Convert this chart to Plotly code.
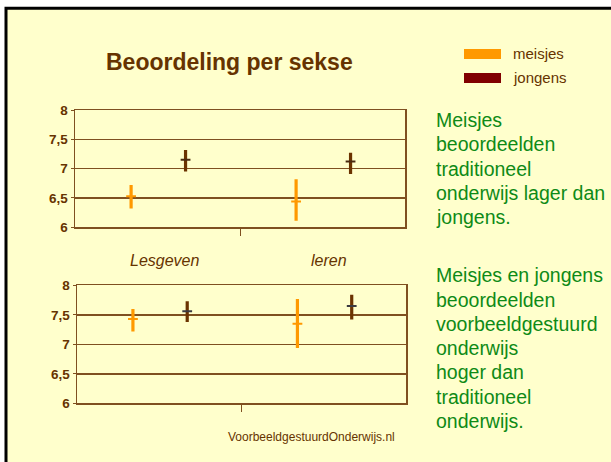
import plotly.graph_objects as go

# ---------------- data ----------------
categories = ["Lesgeven", "leren"]
series_names = ["meisjes", "jongens"]

# top chart (traditioneel onderwijs)
top_meisjes_mean = [6.53, 6.44]
top_meisjes_low = [6.32, 6.11]
top_meisjes_high = [6.72, 6.82]
top_jongens_mean = [7.15, 7.12]
top_jongens_low = [6.95, 6.91]
top_jongens_high = [7.32, 7.27]

# bottom chart (voorbeeldgestuurd onderwijs)
bot_meisjes_mean = [7.43, 7.35]
bot_meisjes_low = [7.22, 6.94]
bot_meisjes_high = [7.60, 7.77]
bot_jongens_mean = [7.56, 7.65]
bot_jongens_low = [7.38, 7.42]
bot_jongens_high = [7.73, 7.84]

y_ticks = [6, 6.5, 7, 7.5, 8]
y_tick_labels = ["6", "6,5", "7", "7,5", "8"]

title_text = "Beoordeling per sekse"
text_block_1 = ["Meisjes", "beoordeelden", "traditioneel", "onderwijs lager dan", "jongens."]
text_block_2 = ["Meisjes en jongens", "beoordeelden", "voorbeeldgestuurd", "onderwijs",
                "hoger dan", "traditioneel", "onderwijs."]
footer_text = "VoorbeeldgestuurdOnderwijs.nl"

# ---------------- style ----------------
W, H = 611, 462
BG = "#FFFFCC"
BROWN = "#663300"
GRID = "#7F5020"
ORANGE = "#FF9900"
DARK = "#6B3300"
LEGEND_DARK = "#800000"
GREEN = "#0E8A16"
FONT = "Arial, Liberation Sans, sans-serif"

offsets = {"meisjes": -0.16, "jongens": 0.17}

# empirical correction for the vertical placement seen in the screenshot
Y_SCALE, Y_OFF = 0.9655, 7.2


def px_x(p):
    return p / W


def px_y(p):
    return 1 - ((p - Y_OFF) / Y_SCALE) / H


fig = go.Figure()


def add_series(name, means, lows, highs, color, mcolor, xa, ya):
    xs = [i + offsets[name] for i in range(len(categories))]
    fig.add_trace(go.Scatter(
        x=xs, y=means, mode="markers", name=name, showlegend=False,
        xaxis=xa, yaxis=ya,
        marker=dict(symbol="line-ew-open", size=7, color=mcolor,
                    line=dict(width=2, color=mcolor)),
        error_y=dict(type="data", symmetric=False,
                     array=[h - m for h, m in zip(highs, means)],
                     arrayminus=[m - l for m, l in zip(means, lows)],
                     thickness=3.2, width=0, color=color),
    ))


add_series("meisjes", top_meisjes_mean, top_meisjes_low, top_meisjes_high, ORANGE, ORANGE, "x", "y")
add_series("jongens", top_jongens_mean, top_jongens_low, top_jongens_high, DARK, "#4A2A10", "x", "y")
add_series("meisjes", bot_meisjes_mean, bot_meisjes_low, bot_meisjes_high, ORANGE, ORANGE, "x2", "y2")
add_series("jongens", bot_jongens_mean, bot_jongens_low, bot_jongens_high, DARK, "#3A3A40", "x2", "y2")

xcommon = dict(range=[-0.5, len(categories) - 0.5], showgrid=False, zeroline=False,
               showline=True, linecolor=GRID, linewidth=1.5, mirror=True,
               tickvals=[0.5], ticks="outside", ticklen=7, tickcolor=GRID,
               showticklabels=False, fixedrange=True)
ycommon = dict(range=[6, 8], tickvals=y_ticks,
               ticktext=["<b>%s</b>" % t for t in y_tick_labels],
               tickfont=dict(family=FONT, size=13.5, color=BROWN),
               showgrid=True, gridcolor=GRID, gridwidth=1.5, zeroline=False,
               showline=True, linecolor=GRID, linewidth=1.5, mirror=True,
               ticks="outside", ticklen=3, tickcolor=GRID, fixedrange=True)

fig.update_layout(
    width=W, height=H,
    margin=dict(l=0, r=0, t=0, b=0),
    paper_bgcolor="white", plot_bgcolor="rgba(0,0,0,0)",
    separators=",.",
    showlegend=False,
    xaxis=dict(domain=[px_x(75), px_x(405)], anchor="y", **xcommon),
    yaxis=dict(domain=[px_y(227), px_y(110)], anchor="x", **ycommon),
    xaxis2=dict(domain=[px_x(77), px_x(406)], anchor="y2", **xcommon),
    yaxis2=dict(domain=[px_y(402.7), px_y(285)], anchor="x2", **ycommon),
)

shapes = [
    # slide background with border on left/top
    dict(type="rect", xref="paper", yref="paper", x0=px_x(6), x1=px_x(W + 10),
         y0=-0.05, y1=px_y(8.5), fillcolor=BG,
         line=dict(color="black", width=3), layer="below"),
    # legend swatches
    dict(type="rect", xref="paper", yref="paper", x0=px_x(464), x1=px_x(501),
         y0=px_y(59), y1=px_y(49), fillcolor=ORANGE, line=dict(width=0)),
    dict(type="rect", xref="paper", yref="paper", x0=px_x(464), x1=px_x(501),
         y0=px_y(83), y1=px_y(73), fillcolor=LEGEND_DARK, line=dict(width=0)),
]

annotations = [
    dict(text="<b>%s</b>" % title_text, xref="paper", yref="paper",
         x=px_x(229), y=px_y(62), xanchor="center", yanchor="middle", showarrow=False,
         font=dict(family=FONT, size=23, color=BROWN)),
    dict(text=series_names[0], xref="paper", yref="paper", x=px_x(511), y=px_y(54),
         xanchor="left", yanchor="middle", showarrow=False,
         font=dict(family=FONT, size=15, color=BROWN)),
    dict(text=series_names[1], xref="paper", yref="paper", x=px_x(511), y=px_y(78),
         xanchor="left", yanchor="middle", showarrow=False,
         font=dict(family=FONT, size=15, color=BROWN)),
    dict(text=footer_text, xref="paper", yref="paper", x=px_x(311), y=px_y(436),
         xanchor="center", yanchor="middle", showarrow=False,
         font=dict(family=FONT, size=12, color=BROWN)),
]

for i, c in enumerate(categories):
    annotations.append(dict(text="<i>%s</i>" % c, xref="x", yref="paper", x=i + 0.04,
                            y=px_y(260), xanchor="center", yanchor="middle", showarrow=False,
                            font=dict(family=FONT, size=16, color=BROWN)))

for k, line in enumerate(text_block_1):
    annotations.append(dict(text=line, xref="paper", yref="paper", x=px_x(434),
                            y=px_y(120 + 24.2 * k), xanchor="left", yanchor="middle",
                            showarrow=False, font=dict(family=FONT, size=19.5, color=GREEN)))
for k, line in enumerate(text_block_2):
    annotations.append(dict(text=line, xref="paper", yref="paper", x=px_x(434),
                            y=px_y(275 + 24.2 * k), xanchor="left", yanchor="middle",
                            showarrow=False, font=dict(family=FONT, size=19.5, color=GREEN)))

fig.update_layout(shapes=shapes, annotations=annotations)
fig.write_html(
    "out.html",
    config={"displayModeBar": False, "staticPlot": True},
    post_script=(
        "document.body.style.margin='0';document.body.style.overflow='hidden';"
        "var d=document.getElementById('{plot_id}');"
        "d.style.position='absolute';d.style.top='0px';d.style.left='0px';"
    ),
)
